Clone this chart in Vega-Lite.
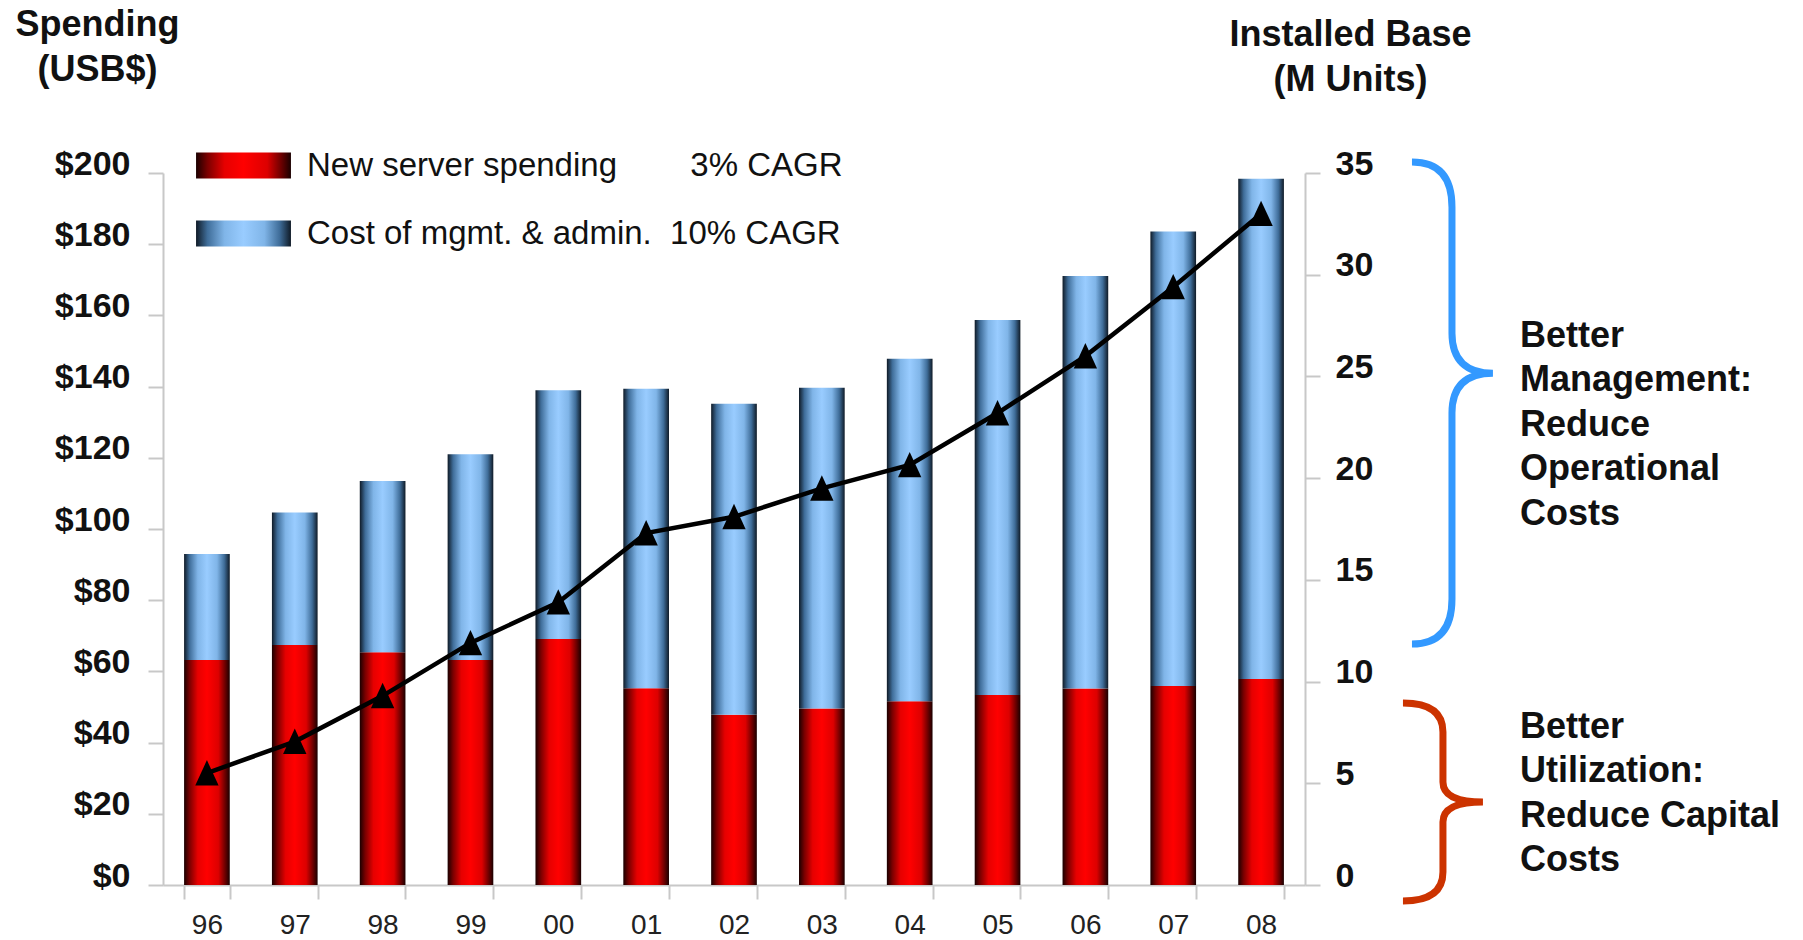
{
  "$schema": "https://vega.github.io/schema/vega-lite/v6.json",
  "width": 1142,
  "height": 712,
  "autosize": {"type": "none"},
  "padding": {"left": 163, "top": 173, "right": 498, "bottom": 55},
  "background": "white",
  "config": {"font": "Liberation Sans", "view": {"stroke": null}},
  "layer": [
    {
      "data": {
        "values": [
          {"year": "96", "series": "New server spending", "value": 63.2},
          {"year": "96", "series": "Cost of mgmt. & admin.", "value": 29.8},
          {"year": "97", "series": "New server spending", "value": 67.4},
          {"year": "97", "series": "Cost of mgmt. & admin.", "value": 37.2},
          {"year": "98", "series": "New server spending", "value": 65.4},
          {"year": "98", "series": "Cost of mgmt. & admin.", "value": 48.1},
          {"year": "99", "series": "New server spending", "value": 63.2},
          {"year": "99", "series": "Cost of mgmt. & admin.", "value": 57.8},
          {"year": "00", "series": "New server spending", "value": 69.1},
          {"year": "00", "series": "Cost of mgmt. & admin.", "value": 69.9},
          {"year": "01", "series": "New server spending", "value": 55.3},
          {"year": "01", "series": "Cost of mgmt. & admin.", "value": 84.1},
          {"year": "02", "series": "New server spending", "value": 47.8},
          {"year": "02", "series": "Cost of mgmt. & admin.", "value": 87.4},
          {"year": "03", "series": "New server spending", "value": 49.6},
          {"year": "03", "series": "Cost of mgmt. & admin.", "value": 90.1},
          {"year": "04", "series": "New server spending", "value": 51.6},
          {"year": "04", "series": "Cost of mgmt. & admin.", "value": 96.2},
          {"year": "05", "series": "New server spending", "value": 53.4},
          {"year": "05", "series": "Cost of mgmt. & admin.", "value": 105.3},
          {"year": "06", "series": "New server spending", "value": 55.2},
          {"year": "06", "series": "Cost of mgmt. & admin.", "value": 115.9},
          {"year": "07", "series": "New server spending", "value": 55.9},
          {"year": "07", "series": "Cost of mgmt. & admin.", "value": 127.7},
          {"year": "08", "series": "New server spending", "value": 57.9},
          {"year": "08", "series": "Cost of mgmt. & admin.", "value": 140.5}
        ]
      },
      "transform": [
        {"stack": "value", "groupby": ["year"], "sort": [{"field": "series", "order": "descending"}], "as": ["v0", "v1"]}
      ],
      "mark": {"type": "bar"},
      "encoding": {
        "x": {
          "field": "year", "type": "nominal",
          "scale": {"type": "band", "domain": ["96","97","98","99","00","01","02","03","04","05","06","07","08"], "paddingInner": 0.48, "paddingOuter": 0.24},
          "axis": {
            "title": null, "labelAngle": 0, "labelFontSize": 28, "labelColor": "#222",
            "labelPadding": 12, "tickBand": "extent", "tickSize": 14, "tickColor": "#c8c8c8",
            "tickWidth": 2, "domainColor": "#c8c8c8", "domainWidth": 2,
            "encode": {"ticks": {"y": {"value": -14}}}
          }
        },
        "y": {
          "field": "v0", "type": "quantitative",
          "scale": {"domain": [0, 200], "nice": false},
          "axis": {
            "title": ["Spending", "(USB$)"], "titleAngle": 0, "titleAlign": "center",
            "titleBaseline": "alphabetic", "titleX": -66, "titleY": -138,
            "titleFontSize": 36, "titleFontWeight": "bold", "titleLineHeight": 45, "titleColor": "#111",
            "values": [0, 20, 40, 60, 80, 100, 120, 140, 160, 180, 200],
            "labelExpr": "'$' + datum.value", "labelFontSize": 34, "labelFontWeight": "bold",
            "labelColor": "#111", "labelPadding": 18, "labelOffset": -9,
            "tickSize": 15, "tickColor": "#c8c8c8", "tickWidth": 2,
            "domainColor": "#c8c8c8", "domainWidth": 2, "grid": false,
            "encode": {"ticks": {"x": {"value": 15}}}
          }
        },
        "y2": {"field": "v1"},
        "color": {
          "field": "series", "type": "nominal",
          "scale": {
            "domain": ["New server spending", "Cost of mgmt. & admin."],
            "range": [
              {"expr": "{gradient: 'linear', x1: 0, y1: 0, x2: 1, y2: 0, stops: [{offset: 0, color: '#1a0000'}, {offset: 0.12, color: '#7a0000'}, {offset: 0.3, color: '#e60000'}, {offset: 0.5, color: '#ff0000'}, {offset: 0.75, color: '#dd0000'}, {offset: 0.9, color: '#6a0000'}, {offset: 1, color: '#1a0000'}]}"},
              {"expr": "{gradient: 'linear', x1: 0, y1: 0, x2: 1, y2: 0, stops: [{offset: 0, color: '#0f1a26'}, {offset: 0.12, color: '#3f6d99'}, {offset: 0.3, color: '#80b5e8'}, {offset: 0.5, color: '#99ccff'}, {offset: 0.72, color: '#80b5e8'}, {offset: 0.88, color: '#3f6d99'}, {offset: 1, color: '#0f1a26'}]}"}
            ]
          },
          "legend": {
            "orient": "none", "legendX": 64, "legendY": -24, "title": null,
            "symbolType": "M-3.65,-1H3.65V1H-3.65Z", "symbolSize": 676, "symbolStrokeWidth": 0,
            "symbolOpacity": 1,
            "labelFontSize": 33, "labelColor": "#111", "labelOffset": 47, "rowPadding": 34,
            "labelLimit": 800, "padding": 0,
            "labelExpr": "datum.label === 'New server spending' ? 'New server spending\u00a0\u00a0\u00a0\u00a0\u00a0\u00a0\u00a0\u00a03% CAGR' : 'Cost of mgmt. & admin.\u00a0\u00a010% CAGR'"
          }
        }
      }
    },
    {
      "data": {
        "values": [
          {"year": "96", "units": 5.5}, {"year": "97", "units": 7.05}, {"year": "98", "units": 9.3},
          {"year": "99", "units": 11.9}, {"year": "00", "units": 13.9}, {"year": "01", "units": 17.3},
          {"year": "02", "units": 18.1}, {"year": "03", "units": 19.5}, {"year": "04", "units": 20.65},
          {"year": "05", "units": 23.2}, {"year": "06", "units": 26.0}, {"year": "07", "units": 29.4},
          {"year": "08", "units": 33.0}
        ]
      },
      "encoding": {
        "x": {
          "field": "year", "type": "nominal",
          "scale": {"type": "band", "domain": ["96","97","98","99","00","01","02","03","04","05","06","07","08"], "paddingInner": 0.48, "paddingOuter": 0.24},
          "axis": null
        },
        "y": {
          "field": "units", "type": "quantitative",
          "scale": {"domain": [0, 35], "nice": false},
          "axis": {
            "orient": "right",
            "title": ["Installed Base", "(M Units)"], "titleAngle": 0, "titleAlign": "center",
            "titleBaseline": "alphabetic", "titleX": 45, "titleY": -128,
            "titleFontSize": 36, "titleFontWeight": "bold", "titleLineHeight": 45, "titleColor": "#111",
            "values": [0, 5, 10, 15, 20, 25, 30, 35],
            "labelFontSize": 34, "labelFontWeight": "bold", "labelColor": "#111",
            "labelPadding": 15, "labelOffset": -9,
            "tickSize": 15, "tickColor": "#c8c8c8", "tickWidth": 2,
            "domainColor": "#c8c8c8", "domainWidth": 2, "grid": false,
            "encode": {"ticks": {"x": {"value": -15}}}
          }
        }
      },
      "layer": [
        {"mark": {"type": "line", "color": "#000", "strokeWidth": 4.5}},
        {"mark": {"type": "point", "shape": "M0,-1L0.9,0.95L-0.9,0.95Z", "size": 676, "filled": true, "color": "#000", "opacity": 1}}
      ]
    },
    {
      "encoding": {
        "x": {"field": "ax", "type": "quantitative", "scale": {"domain": [0, 100], "nice": false, "zero": false}, "axis": null},
        "y": {"field": "au", "type": "quantitative", "scale": {"domain": [0, 35], "nice": false, "zero": false}, "axis": null}
      },
      "layer": [
        {
          "data": {"values": [{"ax": 112.87, "au": 23.69}]},
          "mark": {"type": "point", "shape": "M-0.166,-1Q0,-1 0,-0.813L0,-0.29Q0,-0.124 0.17,-0.124Q0,-0.124 0,0.041L0,0.813Q0,1 -0.166,1", "size": 232324, "filled": false, "stroke": "#3399ff", "strokeWidth": 7, "opacity": 1}
        },
        {
          "data": {"values": [{"ax": 112.08, "au": 4.08}]},
          "mark": {"type": "point", "shape": "M-0.404,-1Q0,-1 0,-0.707L0,-0.202Q0,0 0.404,0Q0,0 0,0.202L0,0.707Q0,1 -0.404,1", "size": 39204, "filled": false, "stroke": "#cc3300", "strokeWidth": 7, "opacity": 1}
        },
        {
          "data": {"values": [
            {"ax": 118.83, "au": 26.46, "label": "Better\nManagement:\nReduce\nOperational\nCosts"},
            {"ax": 118.83, "au": 7.23, "label": "Better\nUtilization:\nReduce Capital\nCosts"}
          ]},
          "mark": {"type": "text", "align": "left", "baseline": "alphabetic", "fontSize": 36, "fontWeight": "bold", "lineHeight": 44.5, "lineBreak": "\n", "color": "#111"},
          "encoding": {"text": {"field": "label", "type": "nominal"}}
        }
      ]
    }
  ],
  "resolve": {"scale": {"x": "independent", "y": "independent"}}
}
